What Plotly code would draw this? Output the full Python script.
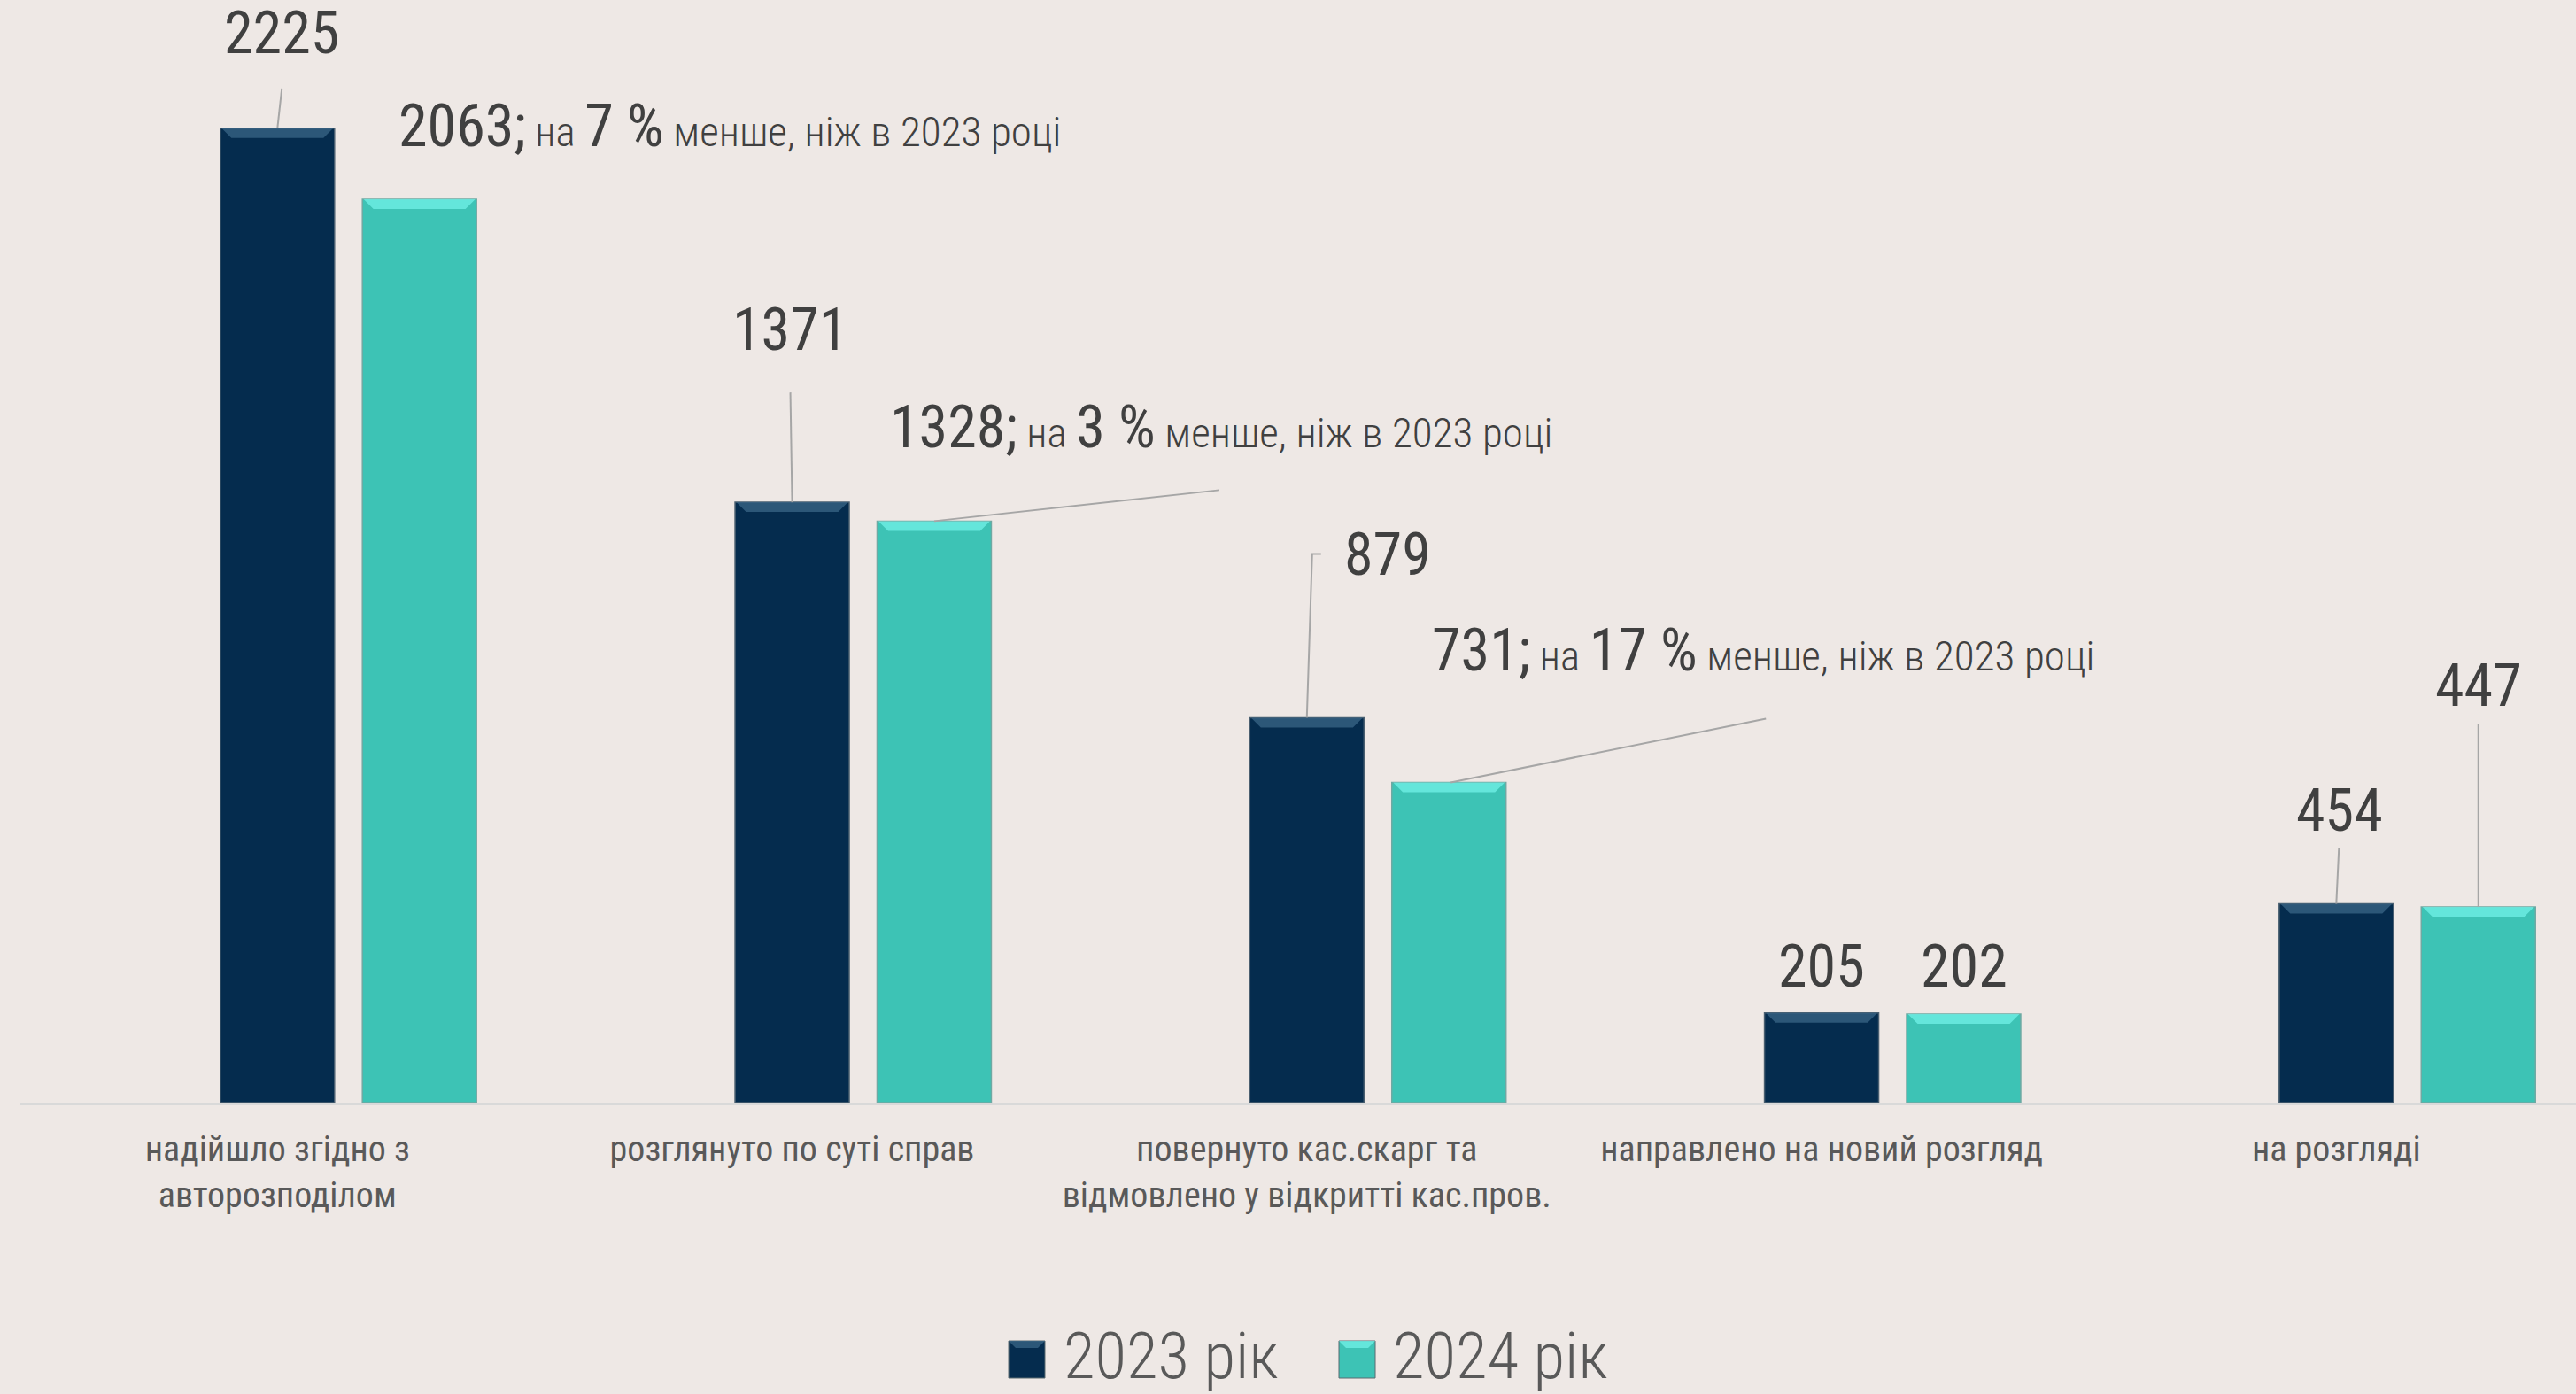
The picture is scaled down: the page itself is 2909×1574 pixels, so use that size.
import plotly.graph_objects as go

# ---------------- data ----------------
categories = [
    "надійшло згідно з<br>авторозподілом",
    "розглянуто по суті справ",
    "повернуто кас.скарг та<br>відмовлено у відкритті кас.пров.",
    "направлено на новий розгляд",
    "на розгляді",
]
series_names = ["2023 рік", "2024 рік"]
values_2023 = [2225, 1371, 879, 205, 454]
values_2024 = [2063, 1328, 731, 202, 447]
pct_less_2024 = [7, 3, 17, None, None]

# ---------------- style / layout ----------------
W, H = 2909, 1574
ML, MR, MT, MB = 23, 0, 0, 329
BG = "#EEE8E5"
C_DARK = "#052C4E"
C_TEAL = "#3DC3B5"
BEVEL_DARK = "#3A6687"
BEVEL_TEAL = "#72F2E8"
TXT_DARK = "#404040"
TXT_MID = "#595959"
LINE_GRAY = "#A6A6A6"
FONT = "Roboto Condensed, Liberation Sans Narrow, Roboto, sans-serif"
BARGAP = 0.448
BARGROUPGAP = 0.196
BAR_OFF = (1 - BARGAP) / 4.0  # centre offset of each bar from category centre
BAR_HALF_PX = 63              # half bar width in px (for bevel highlight)

x_idx = list(range(len(categories)))

# label placement: (xshift px, yshift px, xanchor), leader path (pixel offsets from bar top)
lab_2023 = [(5, 107, "center"), (-3, 195, "center"), (91, 184, "center"), (0, 52, "center"), (4, 105, "center")]
lead_2023 = ["M0,0 L5,45", "M0,0 L-2,124", "M0,0 L6,185 L16,185", None, "M0,0 L3,63"]
lab_2024 = [(-26, 82, "left"), (-52, 106, "left"), (-21, 149, "left"), (1, 54, "center"), (0, 249, "center")]
lead_2024 = [None, "M0,0 L322,35", "M2,0 L358,72", None, "M0,0 L0,207"]

fig = go.Figure()
fig.add_trace(go.Bar(x=x_idx, y=values_2023, name=series_names[0],
                     marker=dict(color=C_DARK, line=dict(color="#4A5F70", width=1.5)), showlegend=False))
fig.add_trace(go.Bar(x=x_idx, y=values_2024, name=series_names[1],
                     marker=dict(color=C_TEAL, line=dict(color="#6FA9A3", width=1.5)), showlegend=False))

annotations = []
shapes = []

def bevel(bx, v, col):
    h = BAR_HALF_PX
    return dict(type="path", xref="x", yref="y", xsizemode="pixel", ysizemode="pixel",
                xanchor=bx, yanchor=v, layer="above",
                path=f"M{-h},0 L{h},0 L{h-11},-11 L{-h+11},-11 Z",
                fillcolor=col, opacity=0.75, line=dict(width=0))

for i, v in enumerate(values_2023):
    xs, ys, xa = lab_2023[i]
    bx = x_idx[i] - BAR_OFF
    shapes.append(bevel(bx, v, BEVEL_DARK))
    annotations.append(dict(x=bx, y=v, xref="x", yref="y", text=str(v), showarrow=False,
                            xshift=xs, yshift=ys, xanchor=xa, yanchor="middle",
                            font=dict(family=FONT, size=66, color=TXT_DARK)))
    if lead_2023[i]:
        shapes.append(dict(type="path", xref="x", yref="y", xsizemode="pixel", ysizemode="pixel",
                           xanchor=bx, yanchor=v, path=lead_2023[i], line=dict(color=LINE_GRAY, width=2)))

for i, v in enumerate(values_2024):
    xs, ys, xa = lab_2024[i]
    bx = x_idx[i] + BAR_OFF
    shapes.append(bevel(bx, v, BEVEL_TEAL))
    p = pct_less_2024[i]
    if p is not None:
        txt = (f"<span style='font-size:66px;font-weight:400'>{v};</span> на "
               f"<span style='font-size:66px;font-weight:400'>{p} %</span> менше, ніж в 2023 році")
        fnt = dict(family=FONT, size=47, color=TXT_DARK, weight=300)
    else:
        txt = str(v)
        fnt = dict(family=FONT, size=66, color=TXT_DARK)
    annotations.append(dict(x=bx, y=v, xref="x", yref="y", text=txt, showarrow=False,
                            xshift=xs, yshift=ys, xanchor=xa, yanchor="middle", font=fnt))
    if lead_2024[i]:
        shapes.append(dict(type="path", xref="x", yref="y", xsizemode="pixel", ysizemode="pixel",
                           xanchor=bx, yanchor=v, path=lead_2024[i], line=dict(color=LINE_GRAY, width=2)))

# manual legend (pixel -> paper conversion)
PW, PH = W - ML - MR, H - MT - MB
def px(xp):
    return (xp - ML) / PW
def py(yp):
    return (H - MB - yp) / PH

legend_items = [
    (series_names[0], C_DARK, BEVEL_DARK, 1139, 1199),
    (series_names[1], C_TEAL, BEVEL_TEAL, 1512, 1571),
]
for name, col, bcol, sq_x, tx in legend_items:
    shapes.append(dict(type="rect", xref="paper", yref="paper",
                       x0=px(sq_x), x1=px(sq_x + 41), y0=py(1556), y1=py(1514),
                       fillcolor=col, line=dict(color="#5A6A70", width=1)))
    shapes.append(dict(type="path", xref="paper", yref="paper", xsizemode="pixel", ysizemode="pixel",
                       xanchor=px(sq_x), yanchor=py(1514),
                       path="M0,0 L41,0 L33,-8 L8,-8 Z", fillcolor=bcol, opacity=0.75, line=dict(width=0)))
    annotations.append(dict(x=px(tx), y=py(1531), xref="paper", yref="paper", text=name,
                            showarrow=False, xanchor="left", yanchor="middle",
                            font=dict(family=FONT, size=73, color=TXT_MID, weight=300)))

fig.update_layout(
    width=W, height=H,
    margin=dict(l=ML, r=MR, t=MT, b=MB, pad=0),
    paper_bgcolor=BG, plot_bgcolor=BG,
    barmode="group", bargap=BARGAP, bargroupgap=BARGROUPGAP,
    annotations=annotations, shapes=shapes,
    showlegend=False,
    font=dict(family=FONT),
)
fig.update_xaxes(
    type="linear",
    range=[-0.6374, 4.3277],
    tickvals=[i - BAR_OFF for i in x_idx],
    ticktext=categories,
    tickfont=dict(family=FONT, size=40, color=TXT_MID),
    ticks="outside", ticklen=15, tickcolor="rgba(0,0,0,0)",
    showline=True, linecolor="#D9D9D9", linewidth=3,
    showgrid=False, zeroline=False, fixedrange=True,
)
fig.update_yaxes(range=[0, 2518], visible=False, showgrid=False, zeroline=False, fixedrange=True)

fig.write_html("out.html", config={"displayModeBar": False})
